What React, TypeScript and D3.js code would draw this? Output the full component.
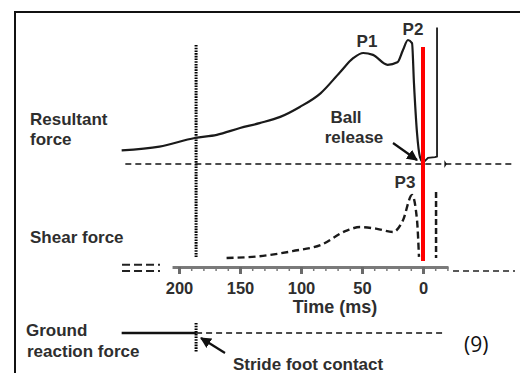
import { useEffect, useRef } from 'react';
import * as d3 from 'd3';

// time before ball release (ms) and relative force
const resultantTime = [247, 216, 187, 169, 150, 134, 117, 101, 84, 68, 57, 49, 41, 29, 21, 16.4, 12.3, 9, 7.4, 4.9, 2.5, 0];
const resultantForce = [11, 14, 21, 23.5, 29, 33, 38, 46, 57, 74, 85.5, 89.5, 88, 80, 82, 92, 100, 97.5, 65, 25, 5.6, 1];
const afterTime = [0, -4.1, -9.8, -11.5, -11.5];
const afterForce = [1, 5, 5.5, 6, 110];

const shearTime = [161, 134, 107, 84, 62, 51.6, 37.7, 24.6, 16.4, 9, 4.9, 3.3];
const shearForce = [12.5, 15, 22, 30.5, 51, 55.5, 53, 48.6, 65, 100, 65, 14];
const shearAfterTime = [-10.7, -10.7];
const shearAfterForce = [104, 12.5];

const majorTicks = [200, 150, 100, 50, 0];
const minorTicks = d3.range(-20, 210, 10);
const axisDomain = [205.7, -20.5];

const strideContact = 186;
const ballRelease = 0;
const grfSolid = [247, 186];
const grfDashed = [186, -16.4];

const font = '"Liberation Sans", Arial, sans-serif';
const textColor = '#2e2e2e';

export default function App() {
  const axisRef = useRef<SVGGElement>(null);

  const x = d3.scaleLinear().domain([200, 0]).range([179, 423]);
  const yRes = d3.scaleLinear().domain([0, 100]).range([164, 40]);
  const yShear = d3.scaleLinear().domain([0, 100]).range([267, 195]);
  const axisY = 267;
  const grfY = 333;

  useEffect(() => {
    if (!axisRef.current) return;
    const g = d3.select(axisRef.current);
    g.selectAll('*').remove();
    const ax = x.copy().domain(axisDomain).range(axisDomain.map((d) => x(d)));

    g.append('g')
      .call(d3.axisBottom(ax).tickValues(minorTicks).tickSize(4).tickSizeOuter(0).tickFormat(() => ''))
      .call((s) => s.select('.domain').attr('stroke', '#7a7a7a').attr('stroke-width', 3))
      .selectAll('line')
      .attr('stroke', '#7a7a7a')
      .attr('stroke-width', 1.5);

    g.append('g')
      .call(d3.axisBottom(ax).tickValues(majorTicks).tickSize(7).tickPadding(8).tickSizeOuter(0).tickFormat((d) => String(d)))
      .call((s) => s.select('.domain').remove())
      .call((s) => s.selectAll('line').attr('stroke', '#6a6a6a').attr('stroke-width', 3))
      .selectAll('text')
      .style('font-family', font)
      .style('font-weight', 'bold')
      .style('font-size', '16.5px')
      .style('fill', textColor);
  }, []);

  const resLine = d3.line<number>()
    .x((d) => x(d))
    .y((_, i) => yRes(resultantForce[i]))
    .curve(d3.curveMonotoneX);
  const afterLine = d3.line<number>()
    .x((d) => x(d))
    .y((_, i) => yRes(afterForce[i]));
  const shearLine = d3.line<number>()
    .x((d) => x(d))
    .y((_, i) => yShear(shearForce[i]))
    .curve(d3.curveMonotoneX);

  const label = (t: string, lx: number, ly: number, size = 17, anchor = 'start') => (
    <text x={lx} y={ly} fontFamily={font} fontWeight="bold" fontSize={size} fill={textColor} textAnchor={anchor}>{t}</text>
  );

  return (
    <svg width={520} height={373} style={{ position: 'absolute', left: 0, top: 0, background: '#fff' }}>
      <defs>
        <marker id="arr" viewBox="0 0 10 10" refX="9" refY="5" markerWidth="5" markerHeight="5" orient="auto">
          <path d="M0,0 L10,5 L0,10 Z" fill="#111" />
        </marker>
      </defs>

      {/* frame */}
      <path d="M15,373 V12 H520" fill="none" stroke="#111" strokeWidth={2} />

      {/* stride foot contact */}
      <line x1={x(strideContact)} x2={x(strideContact)} y1={45} y2={257} stroke="#000" strokeWidth={3} strokeDasharray="1.6,1.1" />
      <line x1={x(strideContact)} x2={x(strideContact)} y1={323} y2={352} stroke="#000" strokeWidth={3} strokeDasharray="1.6,1.1" />

      {/* resultant force */}
      <line x1={x(244)} x2={x(-75.4)} y1={yRes(0)} y2={yRes(0)} stroke="#111" strokeWidth={1.6} strokeDasharray="6,4" />
      <path d={resLine(resultantTime) ?? ''} fill="none" stroke="#1a1a1a" strokeWidth={2.2} />
      <path d={afterLine(afterTime) ?? ''} fill="none" stroke="#1a1a1a" strokeWidth={1.8} />
      <path d={`M${x(-17.5)},${yRes(0) - 4} L${x(-19.5)},${yRes(0)} L${x(-17.5)},${yRes(0) + 4} Z`} fill="#111" />

      {/* shear force */}
      <line x1={x(246.7)} x2={x(215.6)} y1={yShear(3)} y2={yShear(3)} stroke="#222" strokeWidth={2} strokeDasharray="8,4" />
      <line x1={x(246.7)} x2={x(215.6)} y1={yShear(-5.5)} y2={yShear(-5.5)} stroke="#222" strokeWidth={2} strokeDasharray="8,4" />
      <line x1={x(-24.6)} x2={x(-75.4)} y1={yShear(-5.5)} y2={yShear(-5.5)} stroke="#222" strokeWidth={1.6} strokeDasharray="6,4" />
      <path d={shearLine(shearTime) ?? ''} fill="none" stroke="#1a1a1a" strokeWidth={2.4} strokeDasharray="7,4" />
      <path d={d3.line<number>().x((d) => x(d)).y((_, i) => yShear(shearAfterForce[i]))(shearAfterTime) ?? ''} fill="none" stroke="#1a1a1a" strokeWidth={2.5} strokeDasharray="6,3" />

      {/* time axis */}
      <g ref={axisRef} transform={`translate(0,${axisY})`} />

      {/* ball release */}
      <line x1={x(ballRelease)} x2={x(ballRelease)} y1={47} y2={261} stroke="#ff0000" strokeWidth={4} />

      {/* ground reaction force */}
      <line x1={x(grfSolid[0])} x2={x(grfSolid[1])} y1={grfY} y2={grfY} stroke="#111" strokeWidth={2.4} />
      <line x1={x(grfDashed[0])} x2={x(grfDashed[1])} y1={grfY} y2={grfY} stroke="#111" strokeWidth={1.6} strokeDasharray="6,4" />

      {/* arrows */}
      <line x1={393} y1={143} x2={417} y2={160} stroke="#111" strokeWidth={2.2} markerEnd="url(#arr)" />
      <line x1={225} y1={353} x2={201} y2={338} stroke="#111" strokeWidth={2.2} markerEnd="url(#arr)" />

      {/* labels */}
      {label('Resultant', 30, 125)}
      {label('force', 30, 145)}
      {label('Shear force', 30, 243)}
      {label('Ground', 26, 336)}
      {label('reaction force', 27, 357)}
      {label('P1', 367, 47, 17, 'middle')}
      {label('P2', 413, 35, 17, 'middle')}
      {label('P3', 405, 188, 17, 'middle')}
      {label('Ball', 346, 123, 17, 'middle')}
      {label('release', 354, 143, 17, 'middle')}
      {label('Time (ms)', 335, 313, 18, 'middle')}
      {label('Stride foot contact', 233, 370)}
      <text x={464} y={352} fontFamily='"Open Sans", "Noto Sans", sans-serif' fontSize={21} fill="#111">(9)</text>
    </svg>
  );
}
